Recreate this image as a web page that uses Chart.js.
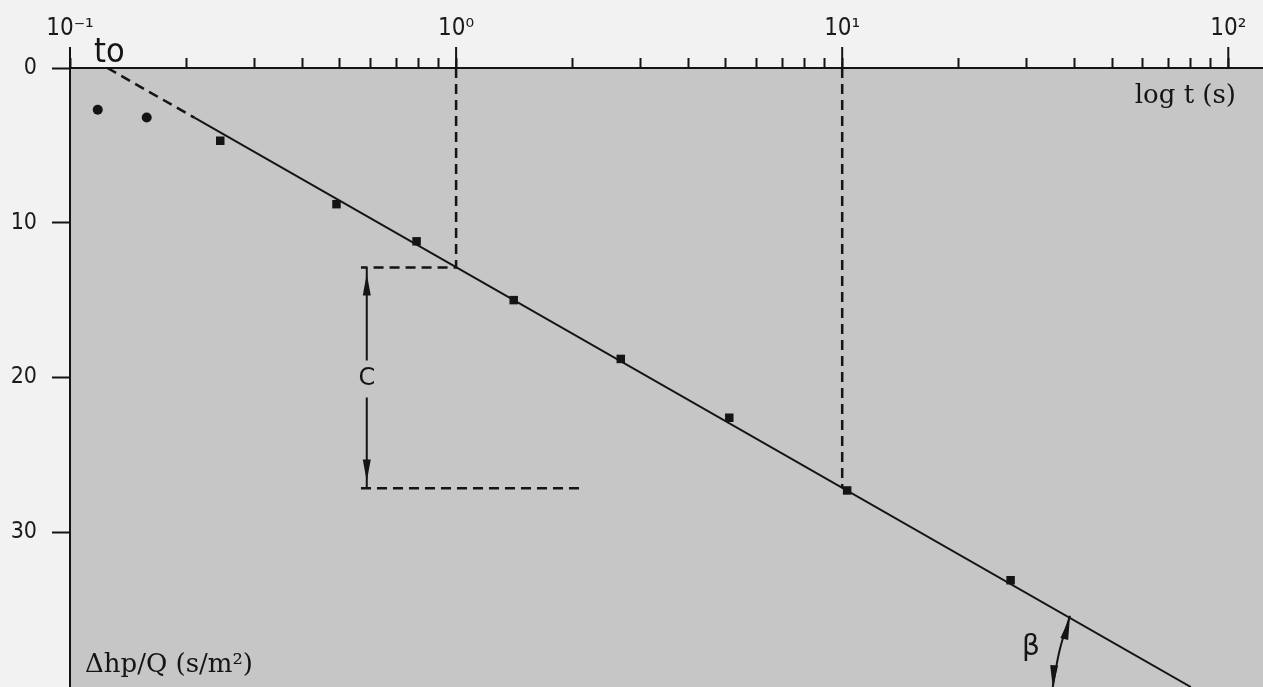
<!DOCTYPE html>
<html><head><meta charset="utf-8">
<script src="https://cdn.jsdelivr.net/npm/chart.js@4"></script>
<style>
html,body{margin:0;padding:0;background:#f2f2f2;overflow:hidden;}
#wrap{width:1263px;height:687px;position:relative;}
</style>
</head><body>
<div id="wrap"><canvas id="c" width="1263" height="687"></canvas></div>
<script>
// ---- data ----
const timeSeconds   = [0.118, 0.158, 0.245, 0.49, 0.79, 1.41, 2.67, 5.1, 10.3, 27.3];
const drawdownPerQ  = [2.7, 3.2, 4.7, 8.8, 11.2, 15.0, 18.8, 22.6, 27.3, 33.1];
const pointShapes   = ['circle','circle','rect','rect','rect','rect','rect','rect','rect','rect'];

const fitDashedT = [0.125, 0.21];
const fitDashedH = [0, 3.21];
const fitSolidT  = [0.21, 80];
const fitSolidH  = [3.21, 40];

const guideOneT  = [1, 1, 0.567];
const guideOneH  = [0, 12.89, 12.89];
const guideTenT  = [10, 10];
const guideTenH  = [0, 27.16];
const guideLowT  = [0.567, 2.11];
const guideLowH  = [27.16, 27.16];

const cArrowUpperT = [0.587, 0.587];
const cArrowUpperH = [12.89, 18.9];
const cArrowLowerT = [0.587, 0.587];
const cArrowLowerH = [21.3, 27.16];

const betaArcT = [38.9, 36.6, 35.1];
const betaArcH = [35.4, 37.6, 40];

const xMajorTicks  = [0.1, 1, 10, 100];
const xMajorLabels = ['10\u207B\u00B9', '10\u2070', '10\u00B9', '10\u00B2'];
const yTickValues  = [0, 10, 20, 30];

const xMin = 0.1, xMax = 123, yMin = 0, yMax = 40;

// ---- helpers ----
const zip = (a, b) => a.map((v, i) => ({x: v, y: b[i]}));
const INK = '#141414';

function lineDs(t, h, dash, extra) {
  return Object.assign({
    type: 'line', data: zip(t, h), borderColor: INK, borderWidth: 2,
    borderDash: dash || [], pointRadius: 0, fill: false, tension: 0,
    showLine: true, order: 2
  }, extra || {});
}

const bgPlugin = {
  id: 'bg',
  beforeDraw(chart) {
    const {ctx, chartArea: a} = chart;
    ctx.save();
    ctx.fillStyle = '#f2f2f2';
    ctx.fillRect(0, 0, chart.width, chart.height);
    ctx.fillStyle = '#c6c6c6';
    ctx.fillRect(a.left, a.top, a.right - a.left, a.bottom - a.top);
    ctx.restore();
  }
};

function arrowHead(ctx, tipX, tipY, baseX, baseY, halfW) {
  const dx = tipX - baseX, dy = tipY - baseY;
  const len = Math.hypot(dx, dy);
  const nx = -dy / len, ny = dx / len;
  ctx.beginPath();
  ctx.moveTo(tipX, tipY);
  ctx.lineTo(baseX + nx * halfW, baseY + ny * halfW);
  ctx.lineTo(baseX - nx * halfW, baseY - ny * halfW);
  ctx.closePath();
  ctx.fill();
}

const annoPlugin = {
  id: 'anno',
  afterDraw(chart) {
    const {ctx, chartArea: a} = chart;
    const xs = chart.scales.x, ys = chart.scales.y;
    const px = v => xs.getPixelForValue(v), py = v => ys.getPixelForValue(v);
    ctx.save();
    ctx.strokeStyle = INK; ctx.fillStyle = INK; ctx.lineWidth = 2;
    // long major ticks above the top axis
    xMajorTicks.forEach(v => {
      const x = px(v);
      ctx.beginPath(); ctx.moveTo(x, a.top - 21); ctx.lineTo(x, a.top); ctx.stroke();
    });
    // C arrow heads
    const cx = px(cArrowUpperT[0]);
    arrowHead(ctx, cx, py(13.3), cx, py(14.7), 4);
    arrowHead(ctx, cx, py(26.7), cx, py(25.3), 4);
    // beta arrow heads
    arrowHead(ctx, px(38.9), py(35.5), px(37.6), py(36.9), 4);
    arrowHead(ctx, px(35.1), py(40), px(35.4), py(38.6), 4);

    // texts
    ctx.textAlign = 'left'; ctx.textBaseline = 'alphabetic';
    ctx.font = '34px "DejaVu Sans Condensed", "DejaVu Sans", sans-serif';
    ctx.fillText('to', 94, 62);
    ctx.font = '26px "DejaVu Serif", serif';
    ctx.textAlign = 'right';
    ctx.fillText('log t (s)', 1236, 103);
    ctx.textAlign = 'left';
    ctx.fillText('\u0394hp/Q (s/m\u00B2)', 85, 672);
    ctx.font = '24px "DejaVu Sans", sans-serif';
    ctx.textAlign = 'center'; ctx.textBaseline = 'middle';
    ctx.fillText('C', cx, py(20.1));
    ctx.font = '28px "DejaVu Sans", sans-serif';
    ctx.fillText('\u03B2', 1031, 648);
    ctx.restore();
  }
};

const isLogStep = v => {
  const e = Math.floor(Math.log10(v) + 1e-9);
  const m = v / Math.pow(10, e);
  return Math.abs(m - Math.round(m)) < 1e-6 && Math.round(m) >= 1 && Math.round(m) <= 9;
};

new Chart(document.getElementById('c'), {
  type: 'scatter',
  data: {
    datasets: [
      {
        type: 'scatter', data: zip(timeSeconds, drawdownPerQ),
        pointStyle: pointShapes,
        pointRadius: pointShapes.map(s => s === 'circle' ? 5 : 6),
        backgroundColor: INK, borderColor: INK, borderWidth: 0, order: 1
      },
      lineDs(fitDashedT, fitDashedH, [10, 6], {borderWidth: 2.5}),
      lineDs(fitSolidT, fitSolidH),
      lineDs(guideOneT, guideOneH, [10, 6], {borderWidth: 2.5}),
      lineDs(guideTenT, guideTenH, [10, 6], {borderWidth: 2.5}),
      lineDs(guideLowT, guideLowH, [10, 6], {borderWidth: 2.5}),
      lineDs(cArrowUpperT, cArrowUpperH),
      lineDs(cArrowLowerT, cArrowLowerH),
      lineDs(betaArcT, betaArcH, [], {tension: 0.4})
    ]
  },
  options: {
    responsive: false, animation: false, devicePixelRatio: 1,
    layout: {padding: 0, autoPadding: false},
    plugins: {legend: {display: false}, tooltip: {enabled: false}},
    scales: {
      x: {
        type: 'logarithmic', position: 'top', min: xMin, max: xMax,
        afterBuildTicks: s => { s.ticks = s.ticks.filter(t => isLogStep(t.value)); },
        afterFit: s => { s.height = 68; s.paddingLeft = 0; s.paddingRight = 0; },
        grid: {drawOnChartArea: false, drawTicks: true, tickLength: 10, tickWidth: 2, tickColor: INK},
        border: {display: true, color: INK, width: 2},
        ticks: {
          autoSkip: false, maxRotation: 0, padding: 15, color: '#1a1a1a',
          font: {family: '"DejaVu Sans Condensed", "DejaVu Sans", sans-serif', size: 24},
          callback: v => { const i = xMajorTicks.findIndex(m => Math.abs(m - v) < 1e-9 * m); return i >= 0 ? xMajorLabels[i] : ''; }
        }
      },
      y: {
        type: 'linear', reverse: true, min: yMin, max: yMax,
        afterBuildTicks: s => { s.ticks = yTickValues.map(v => ({value: v})); },
        afterFit: s => { s.width = 70; s.paddingTop = 0; s.paddingBottom = 0; },
        grid: {drawOnChartArea: false, drawTicks: true, tickLength: 18, tickWidth: 2, tickColor: INK},
        border: {display: true, color: INK, width: 2},
        ticks: {
          padding: 15, color: '#1a1a1a',
          font: {family: '"DejaVu Sans Condensed", "DejaVu Sans", sans-serif', size: 23}
        }
      }
    }
  },
  plugins: [bgPlugin, annoPlugin]
});
</script>
</body></html>
